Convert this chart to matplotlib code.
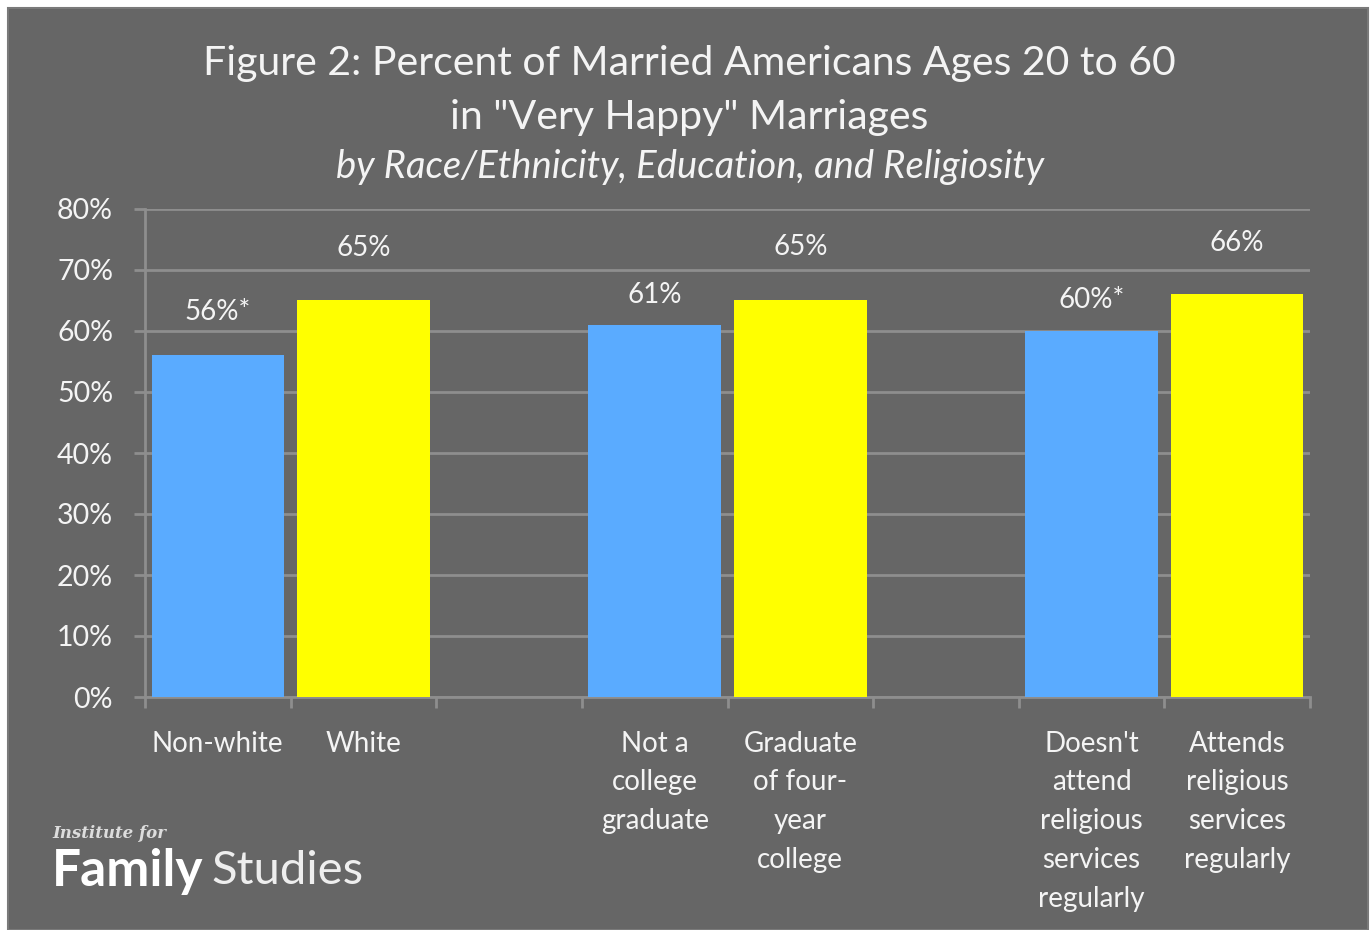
import numpy as np
import matplotlib.pyplot as plt
from matplotlib.patches import Rectangle

# Data
labels = ["Non-white", "White",
          "Not a\ncollege\ngraduate", "Graduate\nof four-\nyear\ncollege",
          "Doesn't\nattend\nreligious\nservices\nregularly", "Attends\nreligious\nservices\nregularly"]
values = [56, 65, 61, 65, 60, 66]
value_labels = ["56%*", "65%", "61%", "65%", "60%*", "66%"]
slots = [0, 1, 3, 4, 6, 7]
bar_colors = ["#5aabff", "#ffff00", "#5aabff", "#ffff00", "#5aabff", "#ffff00"]
yticks = np.arange(0, 81, 10)

bg = "#666666"
txt = "#f4f4f4"
grid = "#8e8e8e"
font = "Lato"

fig = plt.figure(figsize=(13.71, 9.30), dpi=100, facecolor="white")
fig.patches.append(Rectangle((8 / 1371, 0), 1 - 11 / 1371, 1 - 8 / 930,
                             transform=fig.transFigure, facecolor=bg,
                             edgecolor="#7a7a7a", linewidth=1.5, zorder=-1))

ax = fig.add_axes([145 / 1371, 233 / 930, 1165 / 1371, 488 / 930])
ax.set_facecolor("none")

ax.bar(slots, values, width=0.91, color=bar_colors, zorder=3)

# data labels (Excel placed these above bars with varying gaps)
offsets = [7.1, 8.6, 4.9, 8.8, 5.1, 8.4]
for s, v, t, o in zip(slots, values, value_labels, offsets):
    ax.text(s, v + o, t, ha="center", va="center", color=txt,
            fontsize=20, family=font)

ax.set_xlim(-0.5, 7.5)
ax.set_ylim(0, 80)
ax.set_yticks(yticks)
ax.set_yticklabels([f"{t}%" for t in yticks])
ax.yaxis.grid(True, color=grid, linewidth=2, zorder=1)
ax.set_axisbelow(True)

ax.set_xticks(np.arange(-0.5, 8, 1))
ax.set_xticklabels([])
for s, lab in zip(slots, labels):
    ax.text(s, -5.5, lab, ha="center", va="top", color=txt, fontsize=20,
            family=font, linespacing=1.61)

for side in ["top", "right"]:
    ax.spines[side].set_visible(False)
for side in ["left", "bottom"]:
    ax.spines[side].set_color(grid)
    ax.spines[side].set_linewidth(2)

ax.tick_params(axis="y", colors=grid, length=8, width=2, labelcolor=txt,
               labelsize=20.5, pad=15)
ax.tick_params(axis="x", colors=grid, length=8, width=2)
for lab in ax.get_yticklabels():
    lab.set_family(font)

# titles
fig.text(0.503, 1 - 63 / 930, "Figure 2: Percent of Married Americans Ages 20 to 60",
         ha="center", va="center", color=txt, fontsize=29.5, family=font)
fig.text(0.503, 1 - 117 / 930, 'in "Very Happy" Marriages',
         ha="center", va="center", color=txt, fontsize=29.5, family=font)
fig.text(0.503, 1 - 167 / 930, "by Race/Ethnicity, Education, and Religiosity",
         ha="center", va="center", color=txt, fontsize=27.5, family=font,
         style="italic")

# logo
fig.text(52 / 1371, 1 - 834 / 930, "Institute for", ha="left", va="center",
         color="#dddddd", fontsize=12, family="DejaVu Serif", style="italic",
         fontweight="bold")
fig.text(52 / 1371, 1 - 871 / 930, "Family", ha="left", va="center",
         color="white", fontsize=37, family=font, fontweight="bold")
fig.text(211 / 1371, 1 - 871 / 930, "Studies", ha="left", va="center",
         color="#eeeeee", fontsize=34, family=font, fontweight="normal")

fig.savefig("out.png", dpi=100, facecolor=fig.get_facecolor())
